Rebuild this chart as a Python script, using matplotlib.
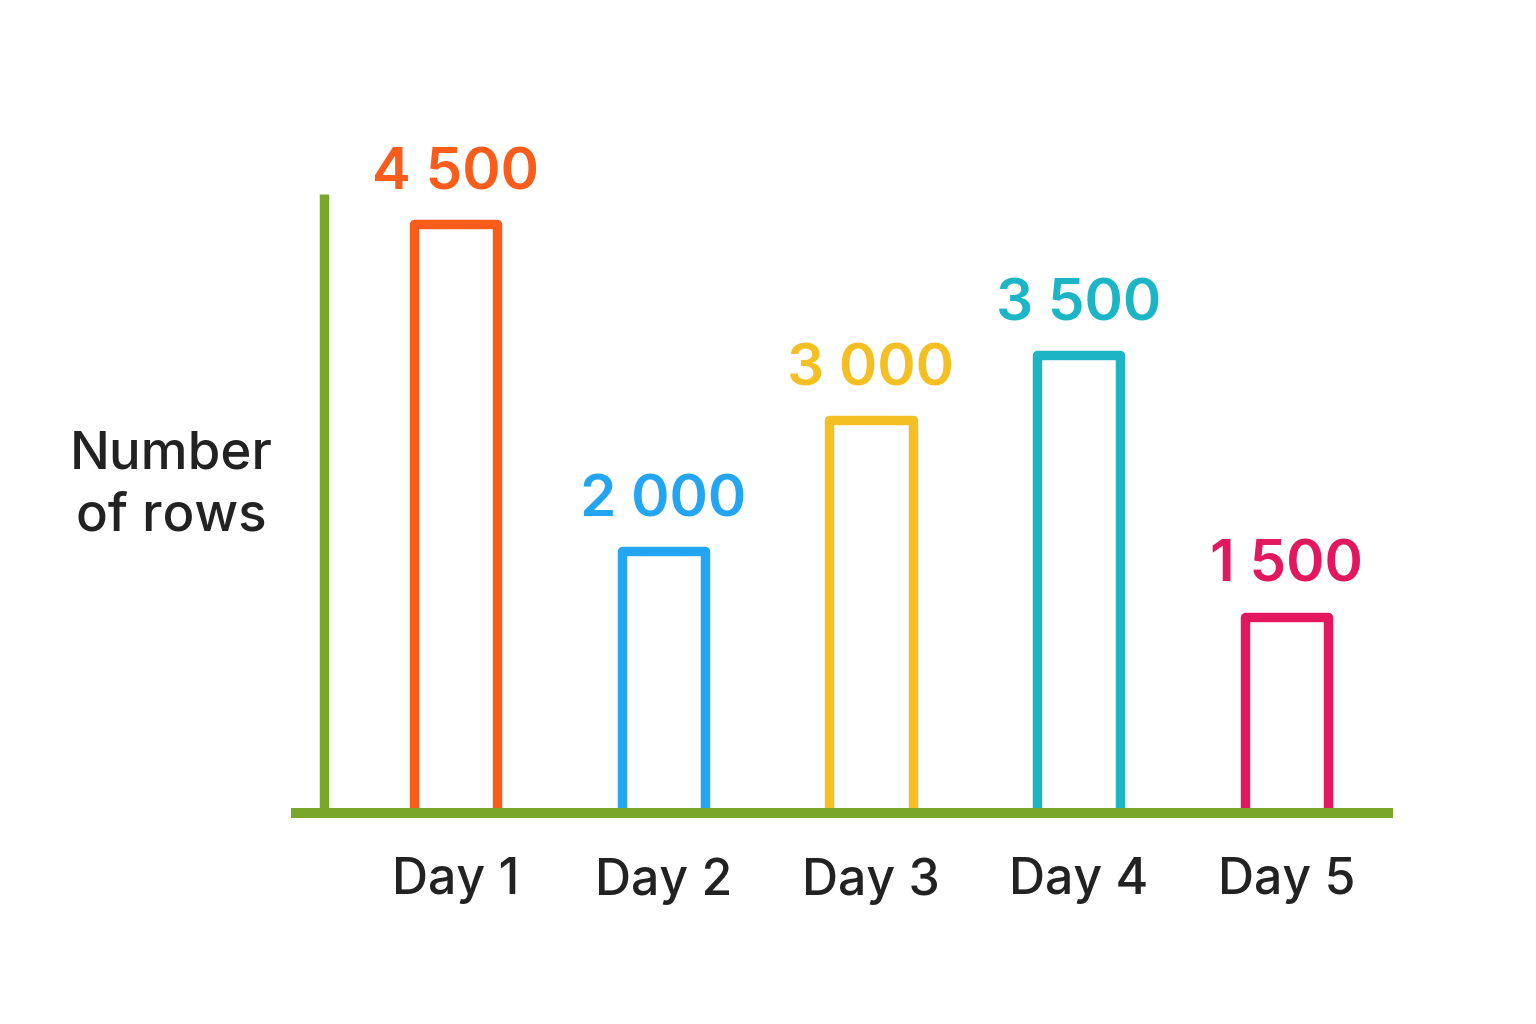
import matplotlib
matplotlib.use("Agg")
import matplotlib.pyplot as plt

categories = ["Day 1", "Day 2", "Day 3", "Day 4", "Day 5"]
values = [4500, 2000, 3000, 3500, 1500]
value_labels = ["4 500", "2 000", "3 000", "3 500", "1 500"]
colors = ["#FA5C1B", "#23A5F2", "#F4BF23", "#1BB5C6", "#E3175D"]
axis_green = "#78A82A"
text_dark = "#222222"
y_label = "Number\nof rows"

plt.rcParams['font.family'] = ['Inter', 'DejaVu Sans']

W, H = 1536, 1024
fig = plt.figure(figsize=(W / 100, H / 100), dpi=100)
fig.patch.set_facecolor("white")

left_px, right_px = 291, 1393
base_px, top_px = 813, 194
ax = fig.add_axes([left_px / W, 1 - base_px / H, (right_px - left_px) / W, (base_px - top_px) / H])

x = list(range(len(categories)))
ax.set_xlim(-0.792, 4.513)
ymax = 4500 * (base_px - top_px) / (base_px - 224)
ax.set_ylim(0, ymax)

for xi, v, c in zip(x, values, colors):
    ax.bar(xi, v, width=0.40, fill=False, edgecolor=c, linewidth=6.8,
           joinstyle="round", zorder=2)

for xi, v, c, lab in zip(x, values, colors, value_labels):
    ax.annotate(lab, (xi, v), xytext=(0, 25), textcoords="offset points",
                ha="center", va="baseline", fontsize=42, fontweight="semibold",
                color=c, zorder=4)

ax.axhline(0, color=axis_green, linewidth=7.2, solid_capstyle="butt",
           clip_on=False, zorder=3)
ax.plot([-0.633, -0.633], [0, ymax], color=axis_green, linewidth=6.8,
        solid_capstyle="butt", clip_on=False, zorder=3)

for s in ax.spines.values():
    s.set_visible(False)
ax.set_yticks([])
ax.set_xticks(x)
ax.set_xticklabels(categories, fontsize=36, color=text_dark, fontweight="medium")
ax.tick_params(axis="x", length=0, pad=32)
ax.patch.set_alpha(0)

fig.text(171 / W, 1 - 486 / H, y_label, ha="center", va="center",
         fontsize=38, color=text_dark, linespacing=1.36, fontweight="medium")

fig.savefig("out.png", dpi=100, facecolor="white")
